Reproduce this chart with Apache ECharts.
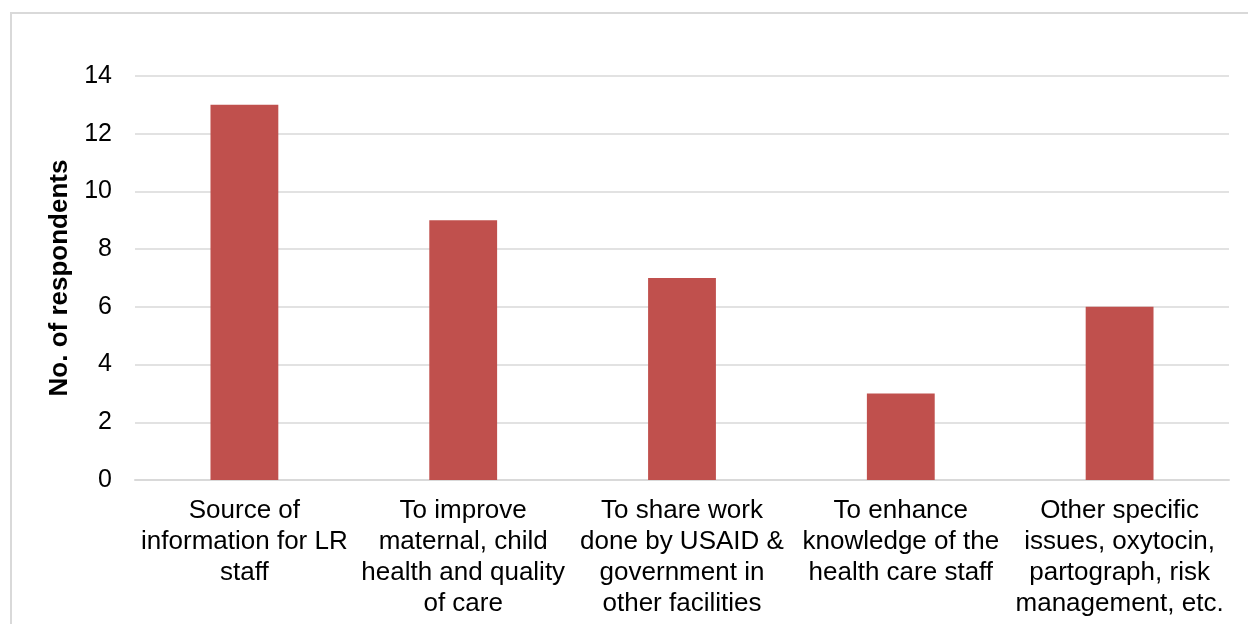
<!DOCTYPE html>
<html>
<head>
<meta charset="utf-8">
<script src="https://cdn.jsdelivr.net/npm/echarts@6/dist/echarts.min.js"></script>
<style>html,body{margin:0;padding:0;background:#fff;}#c{width:1248px;height:624px;}</style>
</head>
<body>
<div id="c"></div>
<script>
const categories = [
  "Source of\ninformation for LR\nstaff",
  "To improve\nmaternal, child\nhealth and quality\nof care",
  "To share work\ndone by USAID &\ngovernment in\nother facilities",
  "To enhance\nknowledge of the\nhealth care staff",
  "Other specific\nissues, oxytocin,\npartograph, risk\nmanagement, etc."
];
const respondents = [13, 9, 7, 3, 6];
const yTicks = { min: 0, max: 14, interval: 2 };
const yAxisTitle = "No. of respondents";

const chart = echarts.init(document.getElementById('c'));
chart.setOption({
  animation: false,
  textStyle: { fontFamily: 'Liberation Sans, Arial, sans-serif' },
  graphic: [{
    type: 'rect', left: 10, top: 12, z: -10,
    shape: { x: 0, y: 0, width: 1260, height: 640 },
    style: { fill: '#fff', stroke: '#d9d9d9', lineWidth: 2 }
  }],
  grid: { left: 135, right: 19, top: 76, bottom: 144 },
  xAxis: {
    type: 'category',
    data: categories,
    axisLine: { lineStyle: { color: '#d9d9d9', width: 2 } },
    axisTick: { show: false },
    axisLabel: { color: '#000', fontSize: 26, lineHeight: 31, margin: 15, interval: 0 }
  },
  yAxis: {
    type: 'value',
    min: yTicks.min, max: yTicks.max, interval: yTicks.interval,
    name: yAxisTitle,
    nameLocation: 'middle',
    nameGap: 60,
    nameRotate: 90,
    nameTextStyle: { color: '#000', fontSize: 26, fontWeight: 'bold' },
    axisLine: { show: false },
    axisTick: { show: false },
    axisLabel: { color: '#000', fontSize: 25, margin: 23 },
    splitLine: { lineStyle: { color: '#d9d9d9', width: 1.5 } }
  },
  series: [{
    type: 'bar',
    data: respondents,
    barWidth: '31%',
    itemStyle: { color: '#c0504d' }
  }]
});
</script>
</body>
</html>
